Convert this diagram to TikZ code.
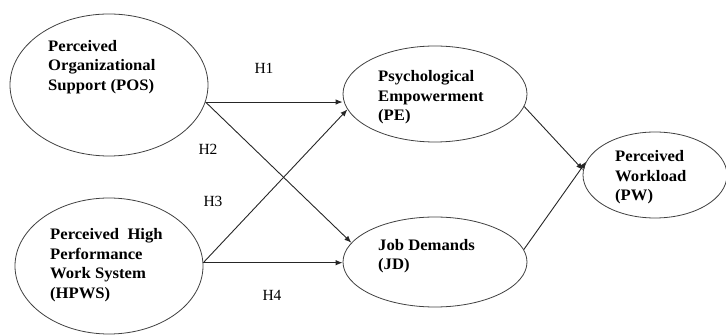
\documentclass[tikz,border=0pt]{standalone}
\usepackage{fontspec}
\setmainfont{Liberation Serif}
\newfontfamily\widefont[FakeStretch=1.04]{Liberation Serif}
\usetikzlibrary{shapes.geometric,arrows.meta}
\tikzset{
  latent/.style={ellipse,draw=black!75,line width=0.8pt,inner sep=0pt},
  lbl/.style={anchor=north west,inner sep=0pt,align=left,font=\widefont\fontsize{16}{19.5}\selectfont\bfseries,text=black},
  hyp/.style={inner sep=0pt,font=\fontsize{15.5}{18}\selectfont},
  path/.style={draw=black!85,line width=0.9pt,-{Latex[length=7pt,width=5.5pt]}}
}
\begin{document}
\begin{tikzpicture}[x=1pt,y=-1pt]
\useasboundingbox (0,0) rectangle (726,336);
% ellipses
\node[latent,minimum width=198pt,minimum height=142pt] (pos) at (109,85) {};
\node[latent,minimum width=188pt,minimum height=136pt] (hpws) at (109,266) {};
\node[latent,minimum width=184pt,minimum height=96pt] (pe) at (435,94) {};
\node[latent,minimum width=184pt,minimum height=90pt] (jd) at (435,262) {};
\node[latent,minimum width=144pt,minimum height=86pt] (pw) at (655,175) {};
% texts
\node[lbl] (tpos) at (48,40) {Perceived\\Organizational\\Support (POS)};
\node[lbl] (thpws) at (50,228.5) {Perceived~~High\\Performance\\Work System\\(HPWS)};
\node[lbl] (tpe) at (378,70.5) {Psychological\\Empowerment\\(PE)};
\node[lbl] (tjd) at (378,239) {Job Demands\\(JD)};
\node[lbl] (tpw) at (615,150.5) {Perceived\\Workload\\(PW)};
% hypothesis labels
\node[hyp] (h1) at (264,68) {H1};
\node[hyp] (h2) at (208,149) {H2};
\node[hyp] (h3) at (213,201) {H3};
\node[hyp] (h4) at (272,295) {H4};
% paths
\draw[path] (pos.-10.8) -- (pos.-10.8 -| pe.west);
\draw[path] (pos.-10.8) -- (jd.167);
\draw[path] (hpws.2) -- (pe.190);
\draw[path] (hpws.2) -- (hpws.2 -| jd.west);
\draw[path] (pe.-8) -- (pw.176);
\draw[path] (jd.8) -- (pw.169);
\end{tikzpicture}
\end{document}
